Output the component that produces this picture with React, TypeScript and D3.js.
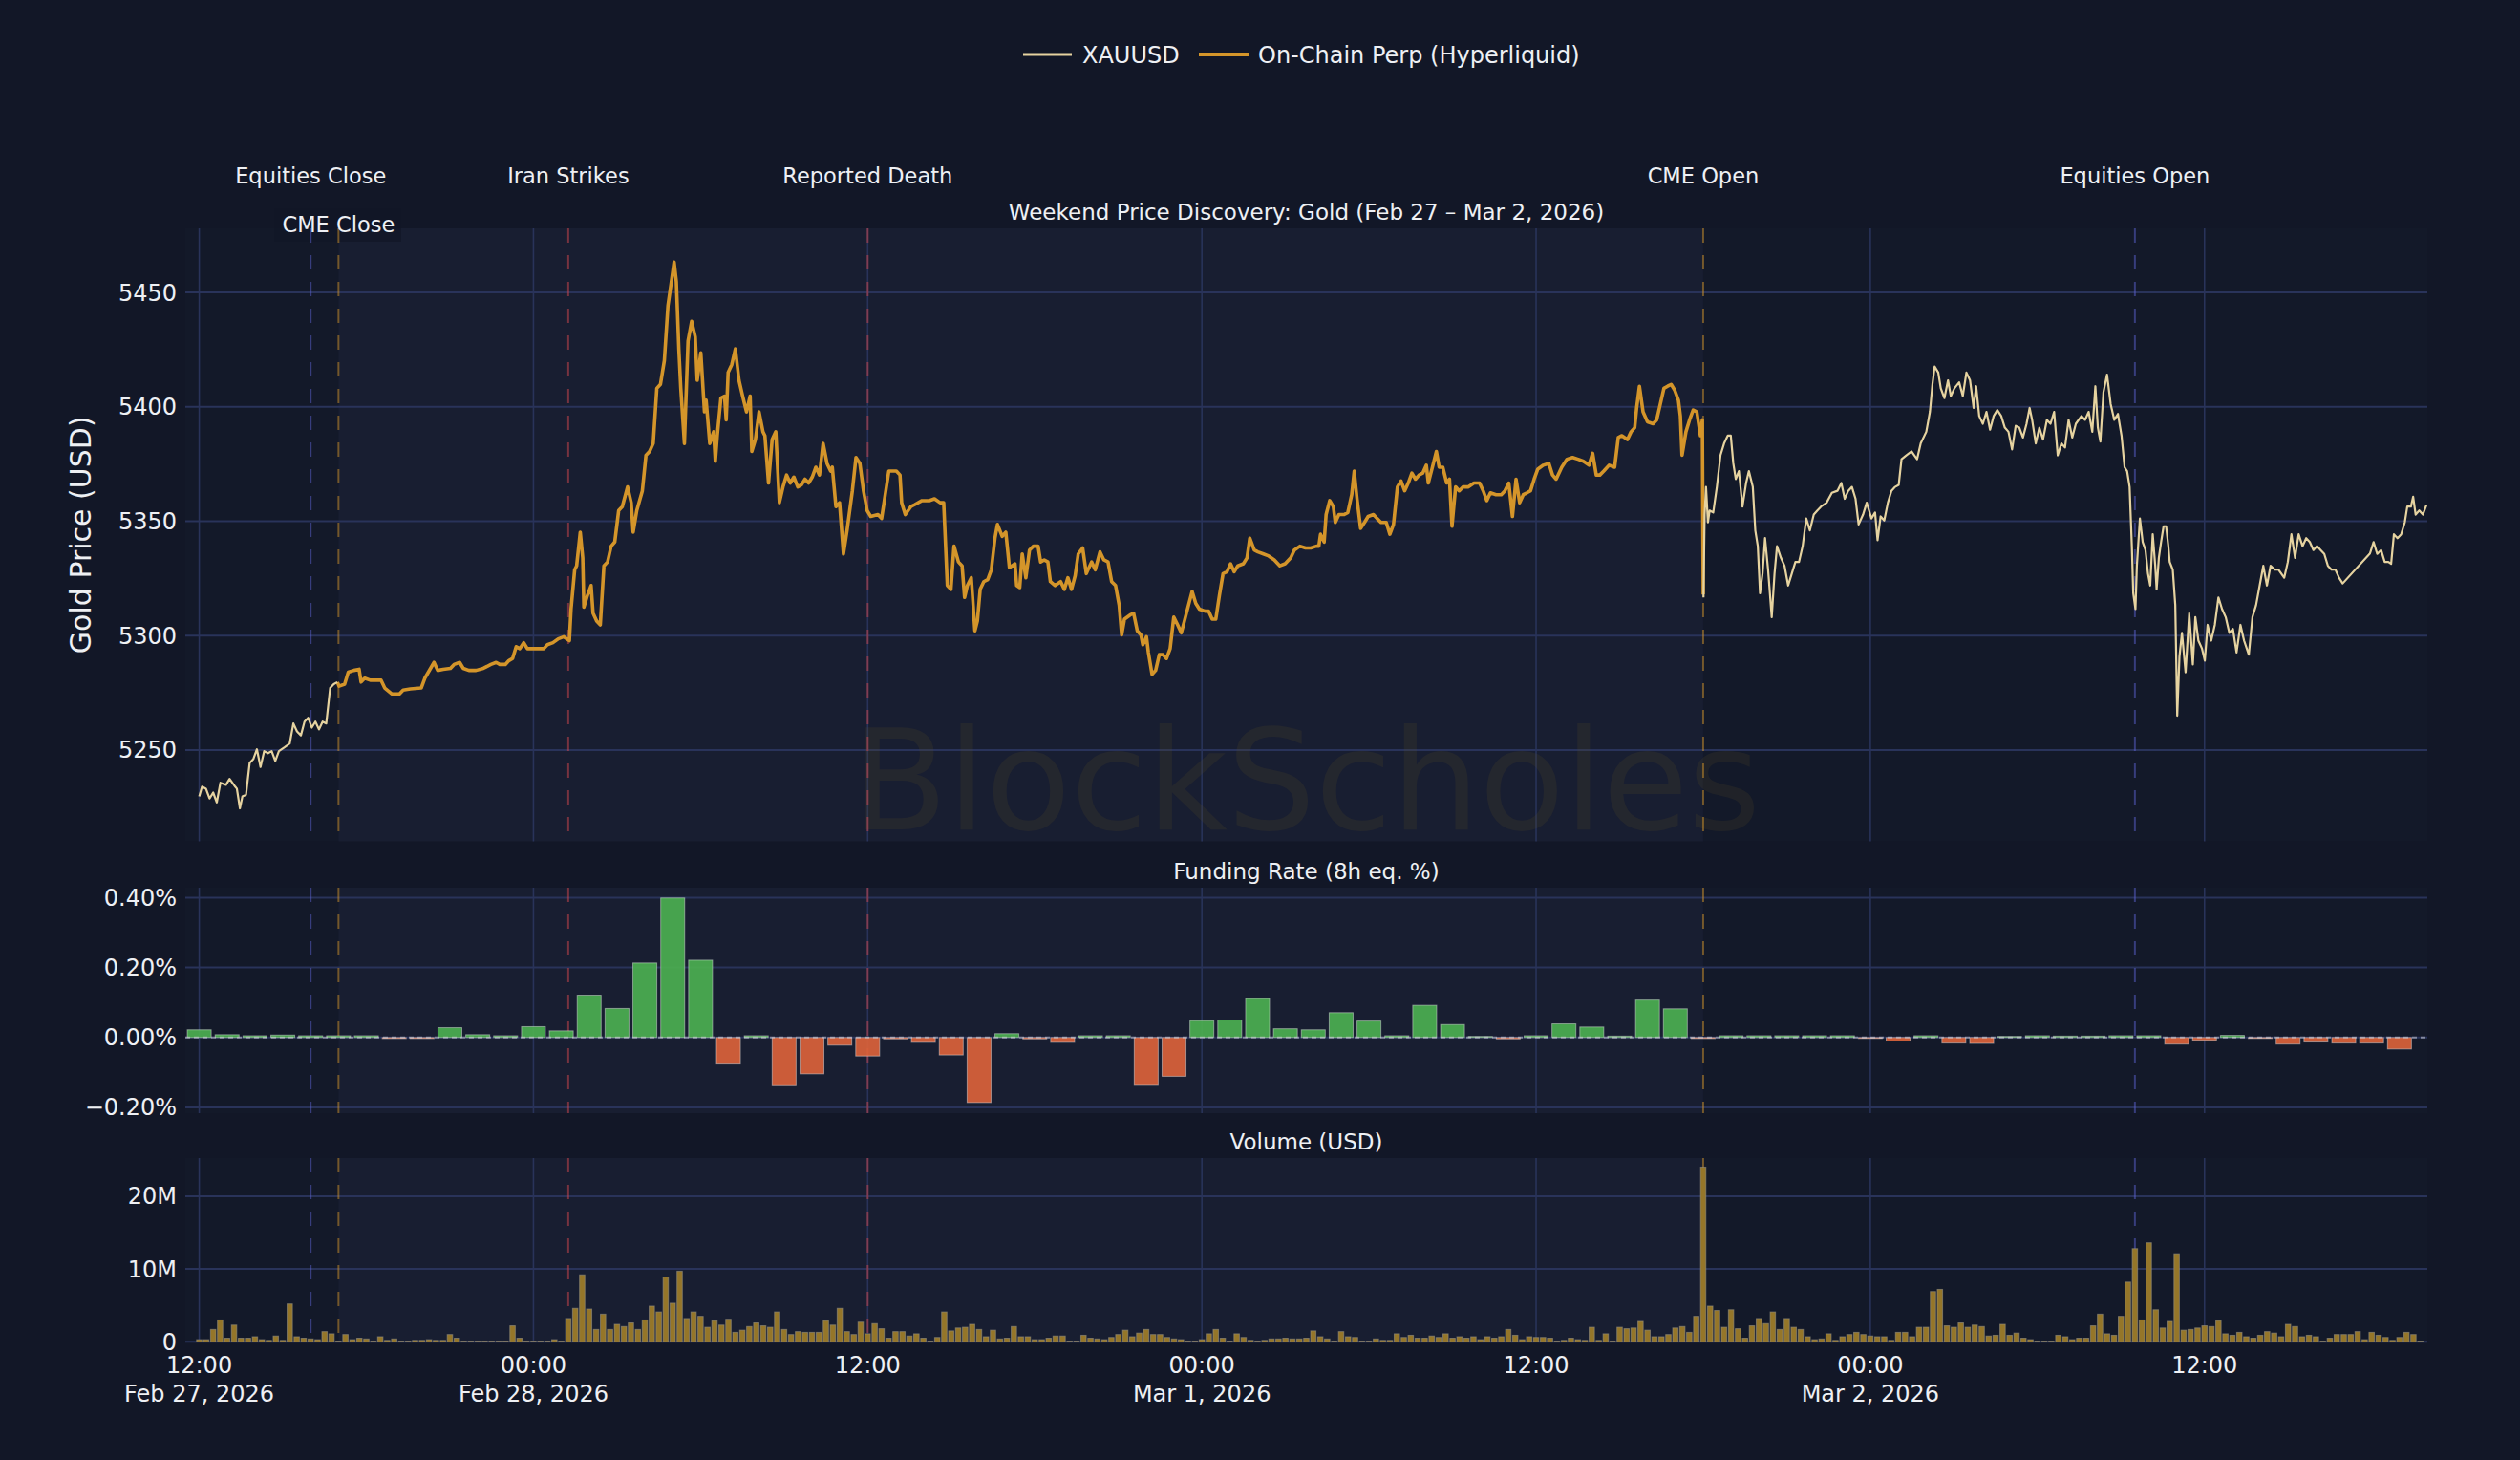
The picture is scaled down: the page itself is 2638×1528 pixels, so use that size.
import { useEffect } from 'react';
import { line, scaleLinear, scaleUtc, utcFormat, utcHour } from 'd3';

// all times are hours after Fri Feb 27 2026 12:00 (ET wall clock)
const START = Date.UTC(2026, 1, 27, 12);
const HOUR = 3600 * 1000;
const at = (h: number) => new Date(START + h * HOUR);

const xauFriday: [number, number][] = [
  [0, 5229.7], [0.1, 5234.0], [0.24, 5233.1], [0.37, 5228.8], [0.5, 5231.4], [0.63, 5227.1],
  [0.76, 5235.7], [0.96, 5234.8], [1.09, 5237.4], [1.29, 5234.0], [1.35, 5233.1], [1.46, 5224.5],
  [1.55, 5229.7], [1.68, 5230.5], [1.81, 5244.3], [1.94, 5246.0], [2.07, 5250.3], [2.2, 5242.6],
  [2.33, 5249.5], [2.47, 5248.6], [2.6, 5249.5], [2.73, 5245.2], [2.86, 5249.5], [3.06, 5251.2],
  [3.25, 5252.9], [3.38, 5261.6], [3.51, 5258.1], [3.65, 5256.4], [3.78, 5262.4], [3.91, 5264.1],
  [4.04, 5259.8], [4.17, 5262.4], [4.3, 5259.0], [4.43, 5262.4], [4.56, 5261.6], [4.7, 5277.1],
  [4.83, 5278.8], [4.96, 5279.7],
];

const perpWeekend: [number, number][] = [
  [4.96, 5279.7], [5.02, 5277.9], [5.22, 5278.8], [5.35, 5284.0], [5.55, 5284.8], [5.74, 5285.3],
  [5.81, 5279.7], [5.94, 5281.4], [6.14, 5280.5], [6.53, 5280.5], [6.66, 5277.1], [6.92, 5274.5],
  [7.19, 5274.5], [7.32, 5276.2], [7.58, 5276.7], [7.97, 5277.1], [8.1, 5281.4], [8.43, 5288.3],
  [8.56, 5284.8], [8.76, 5285.3], [9.02, 5285.7], [9.15, 5287.4], [9.35, 5288.3], [9.48, 5285.7],
  [9.68, 5284.8], [9.94, 5284.8], [10.2, 5285.7], [10.47, 5287.4], [10.66, 5288.3], [10.79, 5287.4],
  [10.99, 5287.4], [11.12, 5289.1], [11.25, 5290.0], [11.38, 5295.2], [11.51, 5294.3], [11.65, 5296.9],
  [11.78, 5294.3], [12.04, 5294.3], [12.37, 5294.3], [12.5, 5296.0], [12.7, 5296.9], [12.89, 5298.6],
  [13.09, 5299.5], [13.29, 5297.8], [13.35, 5311.6], [13.48, 5328.8], [13.55, 5330.5], [13.68, 5345.2],
  [13.77, 5334.0], [13.81, 5312.4], [13.94, 5317.6], [14.07, 5321.9], [14.14, 5309.8], [14.27, 5306.4],
  [14.4, 5304.7], [14.53, 5330.5], [14.66, 5332.2], [14.79, 5339.1], [14.92, 5340.9], [15.06, 5354.7],
  [15.19, 5356.4], [15.38, 5365.0], [15.51, 5358.1], [15.58, 5345.2], [15.71, 5354.7], [15.91, 5363.3],
  [16.04, 5378.8], [16.17, 5380.5], [16.3, 5384.0], [16.43, 5408.1], [16.56, 5409.8], [16.7, 5420.2],
  [16.83, 5444.3], [16.96, 5455.5], [17.05, 5463.3], [17.13, 5454.7], [17.22, 5425.3], [17.29, 5408.1],
  [17.42, 5384.0], [17.55, 5428.8], [17.68, 5437.4], [17.81, 5430.5], [17.88, 5411.6], [18.01, 5423.6],
  [18.14, 5397.8], [18.2, 5402.9], [18.33, 5384.0], [18.47, 5389.1], [18.53, 5376.2], [18.6, 5387.4],
  [18.73, 5403.8], [18.86, 5404.7], [18.92, 5394.3], [18.99, 5415.0], [19.12, 5418.4], [19.25, 5425.3],
  [19.38, 5411.6], [19.51, 5404.7], [19.65, 5397.8], [19.78, 5404.7], [19.84, 5380.5], [19.97, 5385.7],
  [20.1, 5397.8], [20.24, 5389.1], [20.31, 5387.4], [20.44, 5366.7], [20.57, 5385.7], [20.7, 5389.1],
  [20.83, 5358.1], [20.96, 5365.0], [21.09, 5370.2], [21.22, 5366.7], [21.35, 5369.3], [21.49, 5365.0],
  [21.62, 5365.9], [21.75, 5368.4], [21.88, 5366.7], [22.01, 5369.3], [22.14, 5373.6], [22.27, 5370.2],
  [22.4, 5384.0], [22.54, 5375.3], [22.67, 5371.9], [22.73, 5373.6], [22.86, 5356.4], [22.99, 5358.1],
  [23.13, 5335.7], [23.26, 5346.0], [23.45, 5363.3], [23.58, 5377.9], [23.72, 5375.3], [23.85, 5363.3],
  [23.98, 5354.7], [24.11, 5352.1], [24.37, 5352.9], [24.5, 5351.2], [24.63, 5361.6], [24.76, 5371.9],
  [25.03, 5371.9], [25.16, 5370.2], [25.22, 5358.1], [25.35, 5352.9], [25.55, 5356.4], [25.68, 5357.2],
  [25.95, 5359.0], [26.21, 5359.0], [26.4, 5359.8], [26.6, 5358.1], [26.73, 5358.1], [26.86, 5321.9],
  [26.99, 5320.2], [27.1, 5339.1], [27.26, 5332.2], [27.39, 5330.5], [27.48, 5316.7], [27.58, 5321.9],
  [27.72, 5325.3], [27.85, 5302.1], [27.94, 5306.4], [28.04, 5320.2], [28.17, 5323.6], [28.31, 5324.5],
  [28.44, 5328.8], [28.57, 5342.6], [28.66, 5348.6], [28.83, 5343.4], [28.96, 5345.2], [29.09, 5329.7],
  [29.29, 5331.4], [29.35, 5321.9], [29.46, 5321.0], [29.55, 5335.7], [29.68, 5325.3], [29.81, 5337.4],
  [29.95, 5339.1], [30.12, 5339.1], [30.21, 5332.2], [30.34, 5333.1], [30.47, 5332.2], [30.56, 5323.6],
  [30.73, 5321.9], [30.93, 5323.6], [31.06, 5320.2], [31.19, 5325.3], [31.32, 5320.2], [31.45, 5326.2],
  [31.56, 5335.7], [31.72, 5338.3], [31.85, 5327.1], [32.04, 5332.2], [32.17, 5328.8], [32.34, 5336.6],
  [32.48, 5333.1], [32.63, 5332.2], [32.76, 5323.6], [32.9, 5321.9], [33.03, 5313.3], [33.12, 5300.3],
  [33.22, 5307.2], [33.42, 5309.0], [33.55, 5309.8], [33.68, 5302.1], [33.81, 5300.3], [33.88, 5296.0],
  [34.01, 5299.5], [34.08, 5292.6], [34.21, 5283.1], [34.34, 5284.8], [34.47, 5291.7], [34.6, 5291.7],
  [34.73, 5290.0], [34.86, 5294.3], [34.99, 5308.1], [35.13, 5304.7], [35.26, 5301.2], [35.39, 5307.2],
  [35.52, 5313.3], [35.65, 5319.3], [35.78, 5314.1], [35.91, 5311.6], [36.11, 5310.7], [36.24, 5310.7],
  [36.37, 5307.2], [36.5, 5307.2], [36.63, 5317.6], [36.76, 5327.1], [36.9, 5327.9], [37.03, 5331.4],
  [37.16, 5327.9], [37.29, 5330.5], [37.49, 5331.4], [37.62, 5334.0], [37.72, 5342.6], [37.88, 5337.4],
  [38.01, 5336.6], [38.21, 5335.7], [38.4, 5334.8], [38.6, 5333.1], [38.8, 5330.5], [38.99, 5331.4],
  [39.19, 5334.0], [39.32, 5337.4], [39.52, 5339.1], [39.72, 5338.3], [39.91, 5338.3], [40.11, 5339.1],
  [40.2, 5339.1], [40.26, 5344.3], [40.39, 5340.9], [40.46, 5352.9], [40.59, 5359.0], [40.72, 5356.4],
  [40.79, 5349.5], [40.92, 5352.9], [41.11, 5352.9], [41.24, 5353.8], [41.38, 5361.6], [41.47, 5371.9],
  [41.57, 5359.8], [41.7, 5346.9], [41.84, 5349.5], [41.97, 5352.1], [42.16, 5352.9], [42.29, 5351.2],
  [42.43, 5349.5], [42.62, 5349.5], [42.75, 5344.3], [42.88, 5348.6], [43.02, 5365.0], [43.15, 5367.6],
  [43.28, 5363.3], [43.41, 5366.7], [43.54, 5371.0], [43.67, 5368.4], [43.8, 5370.2], [43.93, 5371.0],
  [44.06, 5374.5], [44.13, 5366.7], [44.26, 5372.8], [44.42, 5380.5], [44.52, 5373.6], [44.65, 5373.6],
  [44.79, 5366.7], [44.89, 5368.4], [44.98, 5347.8], [45.11, 5365.0], [45.24, 5363.3], [45.38, 5365.0],
  [45.57, 5365.0], [45.77, 5366.7], [45.97, 5366.7], [46.1, 5363.3], [46.23, 5359.0], [46.36, 5362.4],
  [46.56, 5361.6], [46.75, 5361.6], [46.88, 5363.3], [47.02, 5366.7], [47.15, 5352.1], [47.28, 5368.4],
  [47.41, 5358.1], [47.54, 5361.6], [47.67, 5362.4], [47.8, 5363.3], [47.93, 5368.4], [48.06, 5372.8],
  [48.26, 5374.5], [48.46, 5375.3], [48.59, 5370.2], [48.72, 5368.4], [48.92, 5373.6], [49.11, 5377.1],
  [49.31, 5377.9], [49.51, 5377.1], [49.7, 5376.2], [49.9, 5374.5], [50.03, 5379.7], [50.16, 5370.2],
  [50.29, 5370.2], [50.43, 5371.9], [50.62, 5374.5], [50.82, 5373.6], [50.95, 5386.6], [51.08, 5387.4],
  [51.28, 5385.7], [51.41, 5389.1], [51.54, 5390.9], [51.61, 5399.5], [51.71, 5409.0], [51.84, 5397.8],
  [52.0, 5393.4], [52.2, 5392.6], [52.33, 5394.3], [52.46, 5401.2], [52.59, 5408.1], [52.72, 5409.0],
  [52.85, 5409.8], [52.98, 5407.2], [53.11, 5402.9], [53.18, 5396.0], [53.24, 5378.8], [53.38, 5389.1],
  [53.51, 5394.3], [53.64, 5398.6], [53.77, 5397.8], [53.9, 5387.4], [53.97, 5394.3], [54.0, 5318.0],
];

const xauMonday: [number, number][] = [
  [54.01, 5316.7], [54.05, 5352.9], [54.1, 5365.0], [54.17, 5349.5], [54.23, 5354.7], [54.36, 5353.8],
  [54.49, 5365.0], [54.62, 5378.8], [54.75, 5384.0], [54.88, 5387.4], [54.99, 5387.4], [55.08, 5375.3],
  [55.17, 5368.4], [55.28, 5371.9], [55.41, 5356.4], [55.54, 5366.7], [55.64, 5371.9], [55.78, 5365.0],
  [55.87, 5346.0], [55.96, 5339.1], [56.04, 5318.5], [56.13, 5327.1], [56.22, 5342.6], [56.33, 5328.8],
  [56.46, 5308.1], [56.56, 5327.1], [56.65, 5339.1], [56.79, 5334.0], [56.92, 5330.5], [57.05, 5321.9],
  [57.18, 5327.1], [57.31, 5332.2], [57.44, 5332.2], [57.57, 5339.1], [57.7, 5351.2], [57.83, 5346.0],
  [57.97, 5352.9], [58.1, 5354.7], [58.23, 5356.4], [58.43, 5358.1], [58.62, 5362.4], [58.82, 5363.3],
  [58.96, 5366.7], [59.08, 5359.8], [59.21, 5363.3], [59.34, 5365.0], [59.47, 5359.8], [59.58, 5348.6],
  [59.74, 5352.9], [59.87, 5358.1], [60.0, 5352.9], [60.04, 5351.2], [60.17, 5353.8], [60.26, 5341.7],
  [60.37, 5352.1], [60.5, 5350.3], [60.63, 5358.1], [60.76, 5363.3], [60.89, 5365.0], [61.02, 5365.9],
  [61.12, 5377.1], [61.29, 5378.8], [61.48, 5380.5], [61.68, 5377.1], [61.81, 5384.0], [62.01, 5389.1],
  [62.14, 5397.8], [62.23, 5409.8], [62.31, 5417.6], [62.44, 5415.0], [62.53, 5408.1], [62.66, 5403.8],
  [62.79, 5411.6], [62.89, 5404.7], [63.02, 5408.1], [63.19, 5410.7], [63.32, 5404.7], [63.45, 5415.0],
  [63.58, 5411.6], [63.71, 5399.5], [63.8, 5409.0], [63.91, 5396.0], [64.04, 5392.6], [64.17, 5397.8],
  [64.3, 5390.0], [64.43, 5396.0], [64.56, 5398.6], [64.7, 5396.0], [64.83, 5390.9], [64.96, 5389.1],
  [65.09, 5381.4], [65.22, 5391.7], [65.35, 5390.9], [65.48, 5386.6], [65.61, 5392.6], [65.72, 5399.5],
  [65.81, 5394.3], [65.94, 5384.0], [66.07, 5390.9], [66.2, 5385.7], [66.34, 5394.3], [66.47, 5392.6],
  [66.6, 5397.8], [66.73, 5378.8], [66.86, 5384.0], [66.99, 5382.2], [67.12, 5394.3], [67.25, 5386.6],
  [67.38, 5392.6], [67.58, 5396.0], [67.71, 5394.3], [67.84, 5397.8], [67.97, 5389.1], [68.08, 5409.0],
  [68.17, 5390.9], [68.26, 5384.8], [68.37, 5406.4], [68.5, 5414.1], [68.63, 5401.2], [68.76, 5394.3],
  [68.89, 5396.9], [69.02, 5387.4], [69.13, 5373.6], [69.22, 5371.9], [69.31, 5365.0], [69.39, 5339.1],
  [69.44, 5318.5], [69.52, 5311.6], [69.57, 5330.5], [69.68, 5351.2], [69.78, 5340.9], [69.88, 5337.4],
  [69.97, 5327.1], [70.05, 5321.9], [70.14, 5344.3], [70.23, 5330.5], [70.28, 5320.2], [70.36, 5334.0],
  [70.44, 5340.9], [70.53, 5347.8], [70.62, 5347.8], [70.7, 5339.1], [70.75, 5332.2], [70.86, 5328.8],
  [70.95, 5313.3], [71.02, 5265.0], [71.1, 5290.9], [71.19, 5301.2], [71.32, 5284.0], [71.45, 5309.8],
  [71.58, 5287.4], [71.67, 5308.1], [71.78, 5297.8], [71.91, 5294.3], [72.01, 5289.1], [72.11, 5304.7],
  [72.24, 5297.8], [72.37, 5304.7], [72.5, 5316.7], [72.63, 5311.6], [72.76, 5308.1], [72.89, 5301.2],
  [73.02, 5302.9], [73.15, 5292.6], [73.29, 5304.7], [73.42, 5297.8], [73.59, 5291.7], [73.72, 5308.1],
  [73.85, 5313.3], [73.98, 5321.9], [74.11, 5330.5], [74.24, 5321.9], [74.37, 5330.5], [74.53, 5328.8],
  [74.66, 5328.8], [74.86, 5325.3], [74.99, 5332.2], [75.12, 5344.3], [75.25, 5334.0], [75.38, 5344.3],
  [75.52, 5339.1], [75.65, 5342.6], [75.78, 5340.9], [75.91, 5337.4], [76.04, 5339.1], [76.17, 5337.4],
  [76.3, 5335.7], [76.43, 5330.5], [76.56, 5328.8], [76.7, 5328.8], [76.83, 5325.3], [76.96, 5322.8],
  [77.94, 5335.9], [78.07, 5340.9], [78.2, 5335.7], [78.34, 5337.4], [78.47, 5332.2], [78.6, 5332.2],
  [78.7, 5331.4], [78.8, 5344.3], [78.93, 5342.6], [79.06, 5344.3], [79.19, 5349.5], [79.28, 5356.4],
  [79.41, 5356.4], [79.49, 5360.7], [79.58, 5352.9], [79.71, 5354.7], [79.84, 5352.9], [79.97, 5357.2],
];

// hourly funding, % (8h equivalent), first bar at hour 0
const fundingRate = [
  0.022, 0.008, 0.005, 0.007, 0.005, 0.005, 0.005, -0.003, -0.003, 0.028,
  0.008, 0.005, 0.031, 0.019, 0.121, 0.083, 0.213, 0.399, 0.221, -0.076,
  0.005, -0.138, -0.104, -0.022, -0.053, -0.004, -0.014, -0.05, -0.186, 0.011,
  -0.004, -0.014, 0.005, 0.005, -0.137, -0.111, 0.048, 0.05, 0.111, 0.025,
  0.022, 0.071, 0.047, 0.005, 0.092, 0.037, 0.003, -0.004, 0.005, 0.039,
  0.03, 0.004, 0.107, 0.082, -0.003, 0.005, 0.005, 0.005, 0.005, 0.005,
  -0.002, -0.01, 0.005, -0.016, -0.017, 0.003, 0.005, 0.004, 0.004, 0.005,
  0.005, -0.019, -0.008, 0.006, -0.002, -0.019, -0.013, -0.016, -0.016, -0.033,
];

// 15-minute volume, USD millions, first bar at hour 0
const volumeM = [
  0.3, 0.3, 1.7, 3.0, 0.5, 2.3, 0.5, 0.5, 0.7, 0.3, 0.2, 0.8, 0.2, 5.2, 0.7, 0.5, 0.4, 0.3, 1.4, 1.1,
  0.1, 1.0, 0.3, 0.5, 0.4, 0.1, 0.7, 0.2, 0.4, 0.1, 0.1, 0.2, 0.2, 0.3, 0.2, 0.2, 1.0, 0.5, 0.1, 0.1,
  0.1, 0.1, 0.1, 0.1, 0.1, 2.2, 0.5, 0.1, 0.1, 0.1, 0.1, 0.3, 0.1, 3.2, 4.6, 9.2, 4.5, 1.7, 3.8, 1.7,
  2.4, 2.1, 2.6, 1.7, 3.0, 4.9, 4.1, 8.9, 5.3, 9.7, 3.2, 4.1, 3.5, 2.0, 2.9, 2.3, 3.1, 1.3, 1.6, 2.1,
  2.6, 2.2, 2.0, 4.1, 1.7, 1.0, 1.4, 1.3, 1.3, 1.3, 2.9, 2.3, 4.6, 1.4, 1.0, 2.7, 1.1, 2.5, 1.8, 0.5,
  1.4, 1.4, 0.8, 1.1, 0.5, 0.1, 0.6, 4.1, 1.5, 1.9, 2.0, 2.4, 1.7, 0.7, 1.6, 0.4, 0.5, 2.1, 0.7, 0.7,
  0.3, 0.3, 0.5, 0.8, 0.8, 0.1, 0.1, 0.9, 0.5, 0.4, 0.3, 0.6, 1.0, 1.6, 0.7, 1.2, 1.7, 1.0, 1.0, 0.6,
  0.4, 0.3, 0.1, 0.1, 0.3, 1.1, 1.7, 0.5, 0.1, 1.1, 0.6, 0.2, 0.1, 0.2, 0.4, 0.4, 0.5, 0.4, 0.4, 0.5,
  1.5, 0.7, 0.4, 0.1, 1.4, 0.7, 0.6, 0.1, 0.1, 0.4, 0.2, 0.2, 1.1, 0.6, 0.9, 0.5, 0.5, 0.8, 0.6, 1.1,
  0.5, 0.7, 0.5, 0.7, 0.3, 0.7, 0.5, 0.7, 1.7, 0.9, 0.3, 0.7, 0.6, 0.6, 0.5, 0.1, 0.2, 0.5, 0.3, 0.2,
  2.0, 0.2, 1.1, 0.1, 2.0, 1.8, 1.9, 2.8, 1.6, 0.7, 0.7, 1.0, 1.9, 2.1, 1.3, 3.5, 24.0, 4.9, 4.3, 2.0,
  4.4, 1.8, 0.5, 2.2, 3.2, 2.5, 4.1, 1.7, 3.2, 2.0, 1.7, 0.7, 0.3, 0.4, 1.1, 0.2, 0.7, 1.0, 1.3, 1.0,
  0.8, 0.7, 0.7, 0.2, 1.3, 1.3, 0.7, 2.0, 2.0, 6.9, 7.2, 2.2, 2.0, 2.6, 2.0, 2.3, 2.1, 0.8, 0.9, 2.4,
  0.9, 1.2, 0.5, 0.3, 0.1, 0.1, 0.1, 0.9, 0.7, 0.3, 0.5, 0.5, 2.2, 3.8, 1.1, 0.9, 3.5, 8.2, 12.8, 3.0,
  13.6, 4.4, 1.9, 2.8, 12.1, 1.6, 1.7, 1.9, 2.2, 2.1, 2.9, 1.1, 0.9, 1.3, 0.7, 0.5, 0.9, 1.4, 1.2, 0.7,
  2.4, 2.1, 0.7, 0.9, 0.7, 0.1, 0.5, 1.0, 1.0, 1.0, 1.4, 0.3, 1.3, 0.9, 0.6, 0.2, 0.6, 1.3, 1.0, 0.1,
];

const eventNames = ['Equities Close', 'CME Close', 'Iran Strikes', 'Reported Death', 'CME Open', 'Equities Open'];
const eventHours = [4, 5, 13.25, 24, 54, 69.5];
const eventKinds = ['equities', 'cme', 'news', 'news', 'cme', 'equities'];

const priceTicks = [5250, 5300, 5350, 5400, 5450];
const fundingTicks = [-0.2, 0, 0.2, 0.4];
const volumeTicks = [0, 10, 20];

const PAPER = '#121727';
const PLOT_BG = '#131929';
const WEEKEND_BG = '#181e31';
const GRID = '#29335a';
const TEXT = '#eef0f4';
const CREAM = '#E6D3A0';
const GOLD = '#D4952A';
const FONT = "Verdana, 'DejaVu Sans', sans-serif";

const eventColor: Record<string, string> = {
  equities: 'rgba(92, 98, 210, 0.5)',
  cme: 'rgba(212, 149, 42, 0.5)',
  news: 'rgba(214, 72, 78, 0.5)',
};

export default function App() {
  useEffect(() => {
    document.body.style.margin = '0';
    document.body.style.background = PAPER;
  }, []);

  const width = 2638;
  const height = 1528;
  const left = 194;
  const right = 2541;

  const x = scaleUtc().domain([at(-0.5), at(80)]).range([left, right]);
  const price = { top: 239, bottom: 880.5 };
  const funding = { top: 929, bottom: 1165 };
  const volume = { top: 1212, bottom: 1404.3 };
  const panels = [price, funding, volume];

  const yPrice = scaleLinear().domain([5210.1, 5478]).range([price.bottom, price.top]);
  const yFunding = scaleLinear().domain([-0.2164, 0.4284]).range([funding.bottom, funding.top]);
  const yVolume = scaleLinear().domain([0, 25.24]).range([volume.bottom, volume.top]);

  const priceLine = line<[number, number]>()
    .x((d) => x(at(d[0])))
    .y((d) => yPrice(d[1]));

  const weekendX0 = x(at(5));
  const weekendX1 = x(at(54));
  const gridTicks = x.ticks(utcHour.every(12)!);
  const timeFmt = utcFormat('%H:%M');
  const dateFmt = utcFormat('%b %-d, %Y');

  const fundingBarW = x(at(0.43)) - x(at(0));
  const volumeBarW = 5.6;

  return (
    <svg width={width} height={height} style={{ display: 'block' }} fontFamily={FONT}>
      <rect width={width} height={height} fill={PAPER} />

      {panels.map((p, i) => (
        <g key={`bg-${i}`}>
          <rect x={left} y={p.top} width={right - left} height={p.bottom - p.top} fill={PLOT_BG} />
          <rect x={weekendX0} y={p.top} width={weekendX1 - weekendX0} height={p.bottom - p.top} fill={WEEKEND_BG} />
          {gridTicks.map((t) => (
            <line key={t.getTime()} x1={x(t)} x2={x(t)} y1={p.top} y2={p.bottom} stroke={GRID} strokeWidth={1.6} />
          ))}
        </g>
      ))}

      {priceTicks.map((v) => (
        <g key={`pt-${v}`}>
          <line x1={left} x2={right} y1={yPrice(v)} y2={yPrice(v)} stroke={GRID} strokeWidth={2} />
          <text x={185} y={yPrice(v) + 8.5} textAnchor="end" fontSize={24} fill={TEXT}>{v}</text>
        </g>
      ))}
      {fundingTicks.map((v) => (
        <g key={`ft-${v}`}>
          <line x1={left} x2={right} y1={yFunding(v)} y2={yFunding(v)} stroke={GRID} strokeWidth={2} />
          <text x={185} y={yFunding(v) + 8.5} textAnchor="end" fontSize={24} fill={TEXT}>
            {`${v < 0 ? '\u2212' : ''}${Math.abs(v).toFixed(2)}%`}
          </text>
        </g>
      ))}
      {volumeTicks.map((v) => (
        <g key={`vt-${v}`}>
          <line x1={left} x2={right} y1={yVolume(v)} y2={yVolume(v)} stroke={GRID} strokeWidth={2} />
          <text x={185} y={yVolume(v) + 8.5} textAnchor="end" fontSize={24} fill={TEXT}>
            {v === 0 ? '0' : `${v}M`}
          </text>
        </g>
      ))}

      {/* watermark */}
      <text
        x={(left + right) / 2}
        y={868}
        textAnchor="middle"
        fontFamily="'DejaVu Sans', sans-serif"
        fontSize={146}
        textLength={951}
        lengthAdjust="spacing"
        fill="rgb(97, 83, 36)"
        opacity={0.17}
      >
        BlockScholes
      </text>

      {/* label box of the CME Close annotation */}
      <rect x={287} y={218} width={133} height={35} fill={PAPER} opacity={0.75} />

      {panels.map((p, i) => (
        <g key={`ev-${i}`}>
          {eventHours.map((h, j) => (
            <line
              key={eventNames[j]}
              x1={x(at(h))}
              x2={x(at(h))}
              y1={p.top}
              y2={p.bottom}
              stroke={eventColor[eventKinds[j]]}
              strokeWidth={2}
              strokeDasharray="15,13"
            />
          ))}
        </g>
      ))}

      {/* funding bars */}
      {fundingRate.map((v, i) => {
        const y0 = yFunding(0);
        const y1 = yFunding(v);
        return (
          <rect
            key={`f-${i}`}
            x={x(at(i)) - fundingBarW}
            y={Math.min(y0, y1)}
            width={fundingBarW * 2}
            height={Math.max(1, Math.abs(y1 - y0))}
            fill={v >= 0 ? '#4CAF50' : '#DB623A'}
            fillOpacity={0.92}
            stroke="rgba(235, 235, 235, 0.45)"
            strokeWidth={1}
          />
        );
      })}
      <line
        x1={left}
        x2={right}
        y1={yFunding(0)}
        y2={yFunding(0)}
        stroke="rgba(210, 212, 220, 0.55)"
        strokeWidth={2}
        strokeDasharray="5,4"
      />

      {/* volume bars */}
      {volumeM.map((v, i) => (
        <rect
          key={`v-${i}`}
          x={x(at(i / 4)) - volumeBarW / 2}
          y={yVolume(v)}
          width={volumeBarW}
          height={yVolume(0) - yVolume(v)}
          fill="#957629"
          stroke="rgba(150, 145, 130, 0.6)"
          strokeWidth={1}
        />
      ))}

      {/* price lines */}
      <path d={priceLine(perpWeekend) ?? ''} fill="none" stroke={GOLD} strokeWidth={3.6} strokeLinejoin="round" />
      <path d={priceLine(xauFriday) ?? ''} fill="none" stroke={CREAM} strokeWidth={2.2} strokeLinejoin="round" />
      <path d={priceLine(xauMonday) ?? ''} fill="none" stroke={CREAM} strokeWidth={2.2} strokeLinejoin="round" />

      {/* x axis labels */}
      {gridTicks.map((t, i) => {
        const showDate = i === 0 || t.getUTCHours() === 0;
        return (
          <g key={`xl-${t.getTime()}`}>
            <text x={x(t)} y={1437} textAnchor="middle" fontSize={24} fill={TEXT}>{timeFmt(t)}</text>
            {showDate && (
              <text x={x(t)} y={1467} textAnchor="middle" fontSize={24} fill={TEXT}>{dateFmt(t)}</text>
            )}
          </g>
        );
      })}

      {/* event labels */}
      {eventNames.map((name, j) => (
        <text
          key={`el-${name}`}
          x={x(at(eventHours[j]))}
          y={name === 'CME Close' ? 242.5 : 191.5}
          textAnchor="middle"
          fontSize={22.5}
          fill={TEXT}
        >
          {name}
        </text>
      ))}

      {/* subplot titles */}
      <text x={(left + right) / 2} y={230} textAnchor="middle" fontSize={23} fill={TEXT}>
        Weekend Price Discovery: Gold (Feb 27 – Mar 2, 2026)
      </text>
      <text x={(left + right) / 2} y={920} textAnchor="middle" fontSize={23} fill={TEXT}>
        Funding Rate (8h eq. %)
      </text>
      <text x={(left + right) / 2} y={1203} textAnchor="middle" fontSize={23} fill={TEXT}>
        Volume (USD)
      </text>

      {/* y title */}
      <text
        transform={`translate(95, ${(price.top + price.bottom) / 2}) rotate(-90)`}
        textAnchor="middle"
        fontSize={30}
        fill={TEXT}
      >
        Gold Price (USD)
      </text>

      {/* legend */}
      <line x1={1071} x2={1122} y1={57} y2={57} stroke={CREAM} strokeWidth={3} />
      <text x={1133} y={65.5} fontSize={24} fill={TEXT}>XAUUSD</text>
      <line x1={1255} x2={1307} y1={57} y2={57} stroke={GOLD} strokeWidth={4} />
      <text x={1317} y={65.5} fontSize={24} fill={TEXT}>On-Chain Perp (Hyperliquid)</text>
    </svg>
  );
}
